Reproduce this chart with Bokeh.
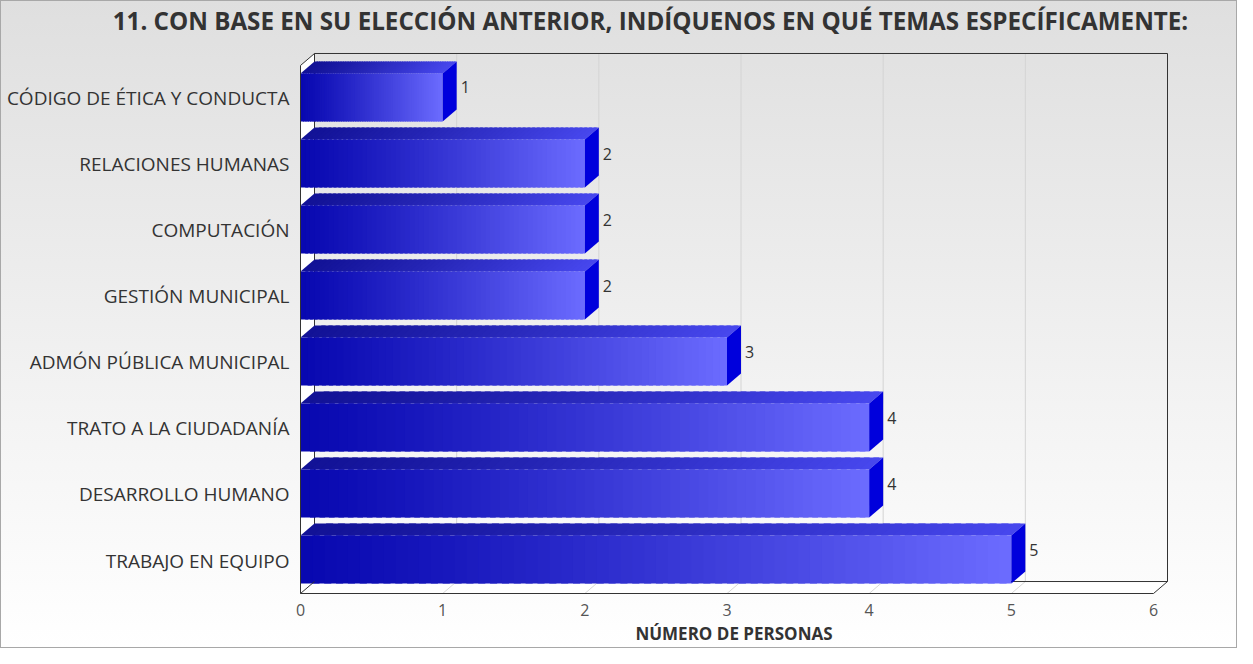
from bokeh.plotting import figure
from bokeh.models import LinearAxis, FixedTicker, Range1d, ColumnDataSource
from bokeh.embed import file_html
from bokeh.resources import INLINE
from bokeh.core.properties import value

# ---------------- data ----------------
categories = [
    "CÓDIGO DE ÉTICA Y CONDUCTA",
    "RELACIONES HUMANAS",
    "COMPUTACIÓN",
    "GESTIÓN MUNICIPAL",
    "ADMÓN PÚBLICA MUNICIPAL",
    "TRATO A LA CIUDADANÍA",
    "DESARROLLO HUMANO",
    "TRABAJO EN EQUIPO",
]
counts = [1, 2, 2, 2, 3, 4, 4, 5]
x_ticks = [0, 1, 2, 3, 4, 5, 6]
title_text = "11. CON BASE EN SU ELECCIÓN ANTERIOR, INDÍQUENOS EN QUÉ TEMAS ESPECÍFICAMENTE:"
x_title = "NÚMERO DE PERSONAS"

# ---------------- geometry ----------------
FONT = "Open Sans"
W, H = 1237, 648
X_MAX = x_ticks[-1]
n = len(categories)
PX_X = (1161 - 308) / X_MAX          # pixels per x unit
PX_Y = (601 - 72) / n                # pixels per category band
DX = 14 / PX_X                       # 3D depth offset (x)
DY = 12 / PX_Y                       # 3D depth offset (y)
EX = 1 / PX_X
EY = 1 / PX_Y
PB = 10 / PX_Y                       # bar bottom padding
PT = 8 / PX_Y                        # bar top padding
TITLE_X = (658 - 308) / PX_X         # horizontal centre of the chart title

p = figure(width=W, height=H,
           x_range=Range1d(-EX, X_MAX + DX + EX),
           y_range=Range1d(-EY, n + DY + EY),
           output_backend="svg", toolbar_location=None,
           min_border_left=299, min_border_right=69,
           min_border_top=51, min_border_bottom=54)
p.background_fill_alpha = 0
p.border_fill_alpha = 0
p.outline_line_color = None
p.grid.visible = False
p.styles = {
    "background": "linear-gradient(to bottom, #dfdfdf 0%, #efefef 50%, #ffffff 100%)",
    "box-shadow": "inset 0 0 0 1px #a8a8a8",
}

# x axis (below)
xa = p.below[0]
xa.ticker = FixedTicker(ticks=x_ticks)
xa.axis_line_color = None
xa.major_tick_line_color = None
xa.minor_tick_line_color = None
xa.major_tick_out = 0
xa.major_label_standoff = 9
xa.major_label_text_font = FONT
xa.major_label_text_font_size = "16px"
xa.major_label_text_color = "#555555"
xa.axis_label = x_title
xa.axis_label_text_font = FONT
xa.axis_label_text_font_style = "bold"
xa.axis_label_text_font_size = "17px"
xa.axis_label_text_color = "#333333"
xa.axis_label_standoff = 3

# title (as the single label of an axis above the frame)
tax = LinearAxis(ticker=FixedTicker(ticks=[TITLE_X]),
                 major_label_overrides={TITLE_X: title_text})
tax.axis_line_color = None
tax.major_tick_line_color = None
tax.minor_tick_line_color = None
tax.major_tick_out = 0
tax.major_label_standoff = 16
tax.major_label_text_font = FONT
tax.major_label_text_font_size = "24.2px"
tax.major_label_text_font_style = "bold"
tax.major_label_text_color = "#333333"
p.add_layout(tax, "above")

# y axis: category names at band centres
y_pos = [n - 1 - k + 0.5 for k in range(n)]
ya = p.left[0]
ya.ticker = FixedTicker(ticks=y_pos)
ya.major_label_overrides = {y: c for y, c in zip(y_pos, categories)}
ya.axis_line_color = None
ya.major_tick_line_color = None
ya.minor_tick_line_color = None
ya.major_tick_out = 0
ya.major_label_standoff = 10
ya.major_label_text_font = FONT
ya.major_label_text_font_size = "19px"
ya.major_label_text_color = "#333333"

# ---------------- walls / grid ----------------
grid_x = x_ticks[1:-1]
p.segment(x0=[g + DX for g in grid_x], y0=[DY] * len(grid_x),
          x1=[g + DX for g in grid_x], y1=[n + DY] * len(grid_x),
          line_color="#d4d4d4", line_width=1)
# left wall and floor (white)
p.patch([0, DX, DX, 0], [0, DY, n + DY, n], fill_color="#ffffff", line_color=None)
p.patch([0, X_MAX, X_MAX + DX, DX], [0, 0, DY, DY], fill_color="#ffffff", line_color=None)
p.segment(x0=grid_x, y0=[0] * len(grid_x), x1=[g + DX for g in grid_x], y1=[DY] * len(grid_x),
          line_color="#d8d8d8", line_width=1)
# back frame lines
p.line([DX, DX, X_MAX + DX, X_MAX + DX], [DY, n + DY, n + DY, DY], line_color="#333333", line_width=1)
p.line([DX, X_MAX + DX], [DY, DY], line_color="#333333", line_width=1)


# ---------------- bars ----------------
def lerp(c0, c1, t):
    return "#%02x%02x%02x" % tuple(int(round(a + (b - a) * t)) for a, b in zip(c0, c1))


FRONT0, FRONT1 = (8, 8, 176), (108, 108, 255)
TOP0, TOP1 = (18, 18, 150), (72, 72, 238)
SIDE = "#0000dc"
NS = 60

fl, fr, fb, ft, fc = [], [], [], [], []
txs, tys, tc = [], [], []
sxs, sys_ = [], []
for k, (cat, v) in enumerate(zip(categories, counts)):
    yi = n - 1 - k
    yb = yi + PB
    yt = yi + 1 - PT
    w = v / NS
    for j in range(NS):
        t = ((j + 0.5) / NS) ** 1.15
        x0 = v * j / NS
        x1 = min(x0 + w * 1.6, v)
        fl.append(x0); fr.append(x1); fb.append(yb); ft.append(yt)
        fc.append(lerp(FRONT0, FRONT1, t))
        txs.append([x0, x1, x1 + DX, x0 + DX])
        tys.append([yt, yt, yt + DY, yt + DY])
        tc.append(lerp(TOP0, TOP1, t))
    sxs.append([v, v, v + DX, v + DX])
    sys_.append([yb, yt, yt + DY, yb + DY])

p.patches(txs, tys, fill_color=tc, line_color=None)
p.quad(left=fl, right=fr, bottom=fb, top=ft, fill_color=fc, line_color=None)
p.patches(sxs, sys_, fill_color=SIDE, line_color=None)

# front frame lines
p.line([DX, 0, 0, X_MAX, X_MAX + DX], [n + DY, n, 0, 0, DY], line_color="#333333", line_width=1)
p.line([0, DX], [0, DY], line_color="#333333", line_width=1)

# value labels
val_src = ColumnDataSource(dict(
    x=[v + DX for v in counts],
    y=[n - 1 - k + 0.5 + 11 / PX_Y for k in range(n)],
    t=[str(v) for v in counts],
))
p.text(x="x", y="y", text="t", source=val_src, x_offset=4,
       text_font=value(FONT), text_font_size="16px", text_color="#333333",
       text_align="left", text_baseline="middle")

open("out.html", "w").write(file_html(p, INLINE))
